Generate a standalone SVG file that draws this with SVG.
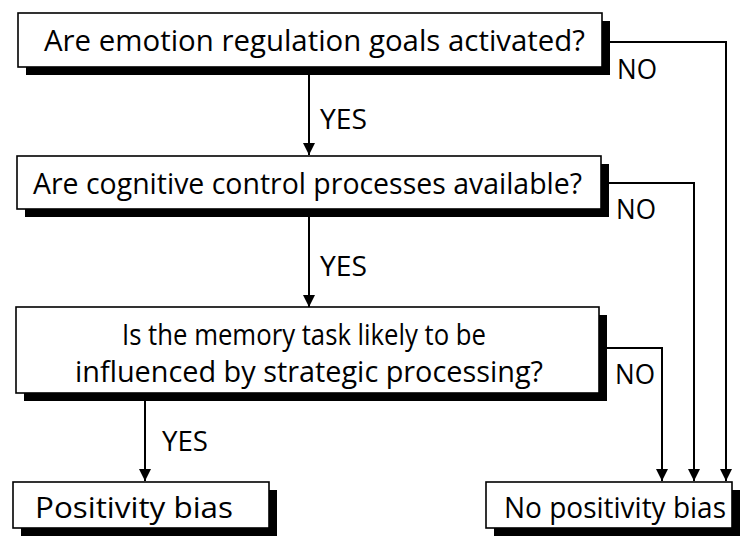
<svg xmlns="http://www.w3.org/2000/svg" width="741" height="542" viewBox="0 0 741 542">
<style>
.box{fill:#fff;stroke:#000;stroke-width:1.6}
.shadow{fill:#000}
.t{font-family:"Open Sans","Noto Sans","Liberation Sans",sans-serif;font-size:30px;fill:#000}
.lbl{font-family:"Open Sans","Noto Sans","Liberation Sans",sans-serif;font-size:28px;fill:#000}
.ln{fill:none;stroke:#000;stroke-width:2}
</style>
<defs>
<marker id="ah" viewBox="0 0 12 12" refX="12" refY="6" markerWidth="12" markerHeight="12" markerUnits="userSpaceOnUse" orient="auto">
<path d="M0,0 L12,6 L0,12 Z" fill="#000"/>
</marker>
</defs>
<g id="connectors">
<polyline class="ln" points="610,42 726,42 726,481" marker-end="url(#ah)"/>
<polyline class="ln" points="609,183 694,183 694,481" marker-end="url(#ah)"/>
<polyline class="ln" points="607,348 662,348 662,481" marker-end="url(#ah)"/>
<line class="ln" x1="309" y1="75" x2="309" y2="155" marker-end="url(#ah)"/>
<line class="ln" x1="309" y1="217" x2="309" y2="307" marker-end="url(#ah)"/>
<line class="ln" x1="145" y1="401" x2="145" y2="481" marker-end="url(#ah)"/>
<text class="lbl" x="320" y="129" textLength="47" lengthAdjust="spacingAndGlyphs">YES</text>
<text class="lbl" x="320" y="276" textLength="47" lengthAdjust="spacingAndGlyphs">YES</text>
<text class="lbl" x="162" y="451" textLength="46" lengthAdjust="spacingAndGlyphs">YES</text>
<text class="lbl" x="617" y="79" textLength="40" lengthAdjust="spacingAndGlyphs">NO</text>
<text class="lbl" x="616" y="219" textLength="40" lengthAdjust="spacingAndGlyphs">NO</text>
<text class="lbl" x="615" y="384" textLength="40" lengthAdjust="spacingAndGlyphs">NO</text>
</g>
<g id="q1">
<rect class="shadow" x="26" y="21" width="584" height="54"/>
<rect class="box" x="18" y="13" width="584" height="54"/>
<text class="t" x="44" y="51" textLength="541" lengthAdjust="spacingAndGlyphs">Are emotion regulation goals activated?</text>
</g>
<g id="q2">
<rect class="shadow" x="25" y="164" width="584" height="53"/>
<rect class="box" x="17" y="156" width="584" height="53"/>
<text class="t" x="33" y="194" textLength="549" lengthAdjust="spacingAndGlyphs">Are cognitive control processes available?</text>
</g>
<g id="q3">
<rect class="shadow" x="24" y="315" width="583" height="86"/>
<rect class="box" x="16" y="307" width="583" height="86"/>
<text class="t" x="122" y="345" textLength="364" lengthAdjust="spacingAndGlyphs">Is the memory task likely to be</text>
<text class="t" x="75" y="382" textLength="468" lengthAdjust="spacingAndGlyphs">influenced by strategic processing?</text>
</g>
<g id="positive">
<rect class="shadow" x="21" y="490" width="256" height="46"/>
<rect class="box" x="13" y="482" width="256" height="46"/>
<text class="t" x="35" y="518" textLength="198" lengthAdjust="spacingAndGlyphs">Positivity bias</text>
</g>
<g id="nopositive">
<rect class="shadow" x="494" y="490" width="246" height="46"/>
<rect class="box" x="486" y="482" width="246" height="46"/>
<text class="t" x="504" y="518" textLength="222" lengthAdjust="spacingAndGlyphs">No positivity bias</text>
</g>
</svg>
